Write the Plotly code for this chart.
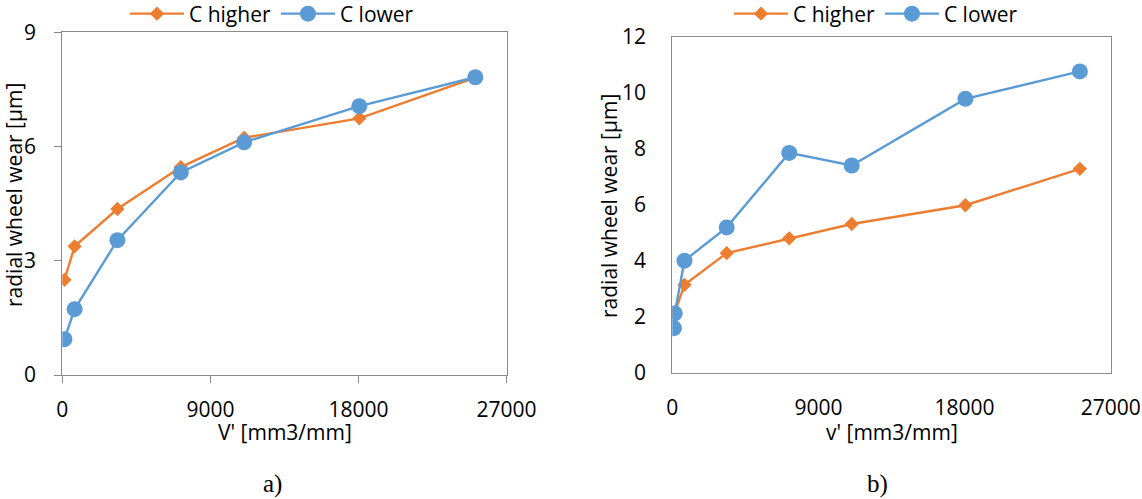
import plotly.graph_objects as go

# Specific volume removed [mm3/mm]
v_common = [130, 750, 3350, 7200, 11050, 18050, 25100]
v_lower_b = [100, 150, 750, 3350, 7200, 11050, 18050, 25100]

# a) radial wheel wear [µm]
wear_a_higher = [2.50, 3.38, 4.36, 5.46, 6.23, 6.74, 7.81]
wear_a_lower = [0.94, 1.73, 3.54, 5.32, 6.11, 7.06, 7.82]

# b) radial wheel wear [µm]
wear_b_higher = [2.12, 3.14, 4.27, 4.80, 5.31, 5.98, 7.28]
wear_b_lower = [1.59, 2.12, 4.00, 5.19, 7.85, 7.40, 9.78, 10.76]

x_ticks = [0, 9000, 18000, 27000]
x_tick_text = ["0", "9000", "18000", "27000"]
series_names = ["C higher", "C lower"]

ORANGE = "#ED7D31"
BLUE = "#5B9BD5"
GRAY = "#8a8a8a"
FONT = "Open Sans"
FS = 21
W, H = 1142, 499

fig = go.Figure()

def add_pair(xh, yh, xl, yl, xa, ya, legend):
    fig.add_trace(go.Scatter(
        x=xh, y=yh, name=series_names[0], mode="lines+markers",
        line=dict(color=ORANGE, width=2.4),
        marker=dict(symbol="diamond", size=11, color=ORANGE),
        xaxis=xa, yaxis=ya, legend=legend))
    fig.add_trace(go.Scatter(
        x=xl, y=yl, name=series_names[1], mode="lines+markers",
        line=dict(color=BLUE, width=2.4),
        marker=dict(symbol="circle", size=16, color=BLUE),
        xaxis=xa, yaxis=ya, legend=legend))

add_pair(v_common, wear_a_higher, v_common, wear_a_lower, "x", "y", "legend")
add_pair(v_common, wear_b_higher, v_lower_b, wear_b_lower, "x2", "y2", "legend2")

def px_x(p):
    return p / W

def px_y(p):
    return 1 - p / H

axis_common = dict(showgrid=False, zeroline=False, showline=True, linecolor=GRAY,
                   linewidth=1.3, mirror=True, automargin=False,
                   tickfont=dict(family=FONT, size=FS, color="#000000"))

fig.update_layout(
    width=W, height=H,
    margin=dict(l=0, r=0, t=0, b=0, autoexpand=False),
    paper_bgcolor="white", plot_bgcolor="white",
    font=dict(family=FONT, size=FS, color="#000000"),
    xaxis=dict(domain=[px_x(62.3), px_x(506.6)], range=[0, 27000],
               tickvals=x_ticks, ticktext=x_tick_text,
               ticks="outside", ticklen=7, tickcolor=GRAY, tickwidth=1.3,
               ticklabelstandoff=9, anchor="y", **axis_common),
    yaxis=dict(domain=[px_y(375), px_y(32.3)], range=[0, 9], dtick=3,
               ticks="outside", ticklen=7, tickcolor=GRAY, tickwidth=1.3,
               ticklabelstandoff=14, anchor="x", **axis_common),
    xaxis2=dict(domain=[px_x(672.3), px_x(1110.7)], range=[0, 27000],
                tickvals=x_ticks, ticktext=x_tick_text,
                ticks="", ticklabelstandoff=16, anchor="y2", **axis_common),
    yaxis2=dict(domain=[px_y(372.7), px_y(36.7)], range=[0, 12], dtick=2,
                ticks="", ticklabelstandoff=21, anchor="x2", **axis_common),
    legend=dict(orientation="h", x=px_x(272), xanchor="center", y=px_y(14), yanchor="middle",
                font=dict(family=FONT, size=FS), itemwidth=54, bgcolor="rgba(0,0,0,0)"),
    legend2=dict(orientation="h", x=px_x(876), xanchor="center", y=px_y(14), yanchor="middle",
                 font=dict(family=FONT, size=FS), itemwidth=54, bgcolor="rgba(0,0,0,0)"),
    showlegend=True,
)

labels = [
    ("radial wheel wear [µm]", 14, 195, -90, FONT, FS),
    ("radial wheel wear [µm]", 609, 206, -90, FONT, FS),
    ("V' [mm3/mm]", 284.5, 432, 0, FONT, FS),
    ("v' [mm3/mm]", 891.5, 432, 0, FONT, FS),
    ("a)", 272, 484, 0, "Liberation Serif", 25),
    ("b)", 877, 484, 0, "Liberation Serif", 25),
]
for text, x, y, ang, fam, size in labels:
    fig.add_annotation(text=text, x=px_x(x), y=px_y(y), xref="paper", yref="paper",
                       xanchor="center", yanchor="middle", textangle=ang, showarrow=False,
                       font=dict(family=fam, size=size, color="#000000"))

fig.write_html("out.html")
